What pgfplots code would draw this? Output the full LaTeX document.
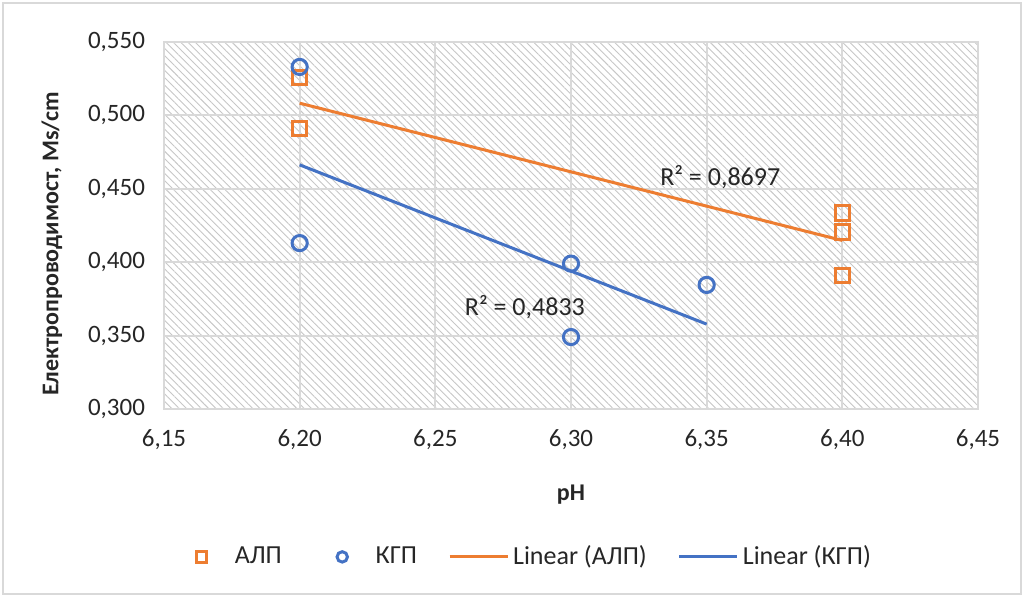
\documentclass[border=0pt]{standalone}
\usepackage{pgfplots}
\pgfplotsset{compat=1.18}
\usepackage{fontspec}
\setmainfont{Carlito}
\usetikzlibrary{patterns.meta}
\definecolor{xlorange}{HTML}{ED7D31}
\definecolor{xlblue}{HTML}{4472C4}
\definecolor{xlgrid}{HTML}{D9D9D9}
\definecolor{xltext}{HTML}{262626}
\pgfplotsset{
  markleg/.style={legend image code/.code={\draw[##1, mark size=2.6pt] plot coordinates {(14.5pt,0pt)};\path (0pt,0pt) (29pt,0pt);}},
  lineleg/.style={legend image code/.code={\draw[##1] (0pt,0pt) -- (29pt,0pt);}},
}
\begin{document}
\begin{tikzpicture}[x=1pt,y=1pt]
\path[use as bounding box] (0,0) rectangle (512,298.5);
\draw[xlgrid, line width=0.75pt] (1.5,1.5) rectangle (510.5,297);
\begin{axis}[
  at={(82pt,94pt)}, anchor=south west,
  scale only axis, width=407pt, height=183.5pt,
  xmin=6.15, xmax=6.45, ymin=0.3, ymax=0.55,
  xtick={6.15,6.20,6.25,6.30,6.35,6.40,6.45},
  ytick={0.30,0.35,0.40,0.45,0.50,0.55},
  major tick length=0pt,
  grid=major,
  major grid style={xlgrid, line width=1pt},
  axis line style={xlgrid, line width=1pt},
  axis background/.style={preaction={fill=white}, pattern={Lines[angle=-45,distance=2.6pt,line width=0.45pt]}, pattern color=black!22},
  tick label style={font=\fontsize{12.5}{14}\selectfont, text=xltext},
  /pgf/number format/assume math mode=true,
  xticklabel style={anchor=north, yshift=-7pt, /pgf/number format/.cd, fixed, fixed zerofill, precision=2, use comma},
  yticklabel style={anchor=east, xshift=-6pt, /pgf/number format/.cd, fixed, fixed zerofill, precision=3, use comma},
  xlabel={pH},
  ylabel={Електропроводимост, Ms/cm},
  x label style={at={(axis description cs:0.5,-0.232)}, anchor=center, font=\bfseries\fontsize{12}{14}\selectfont, text=xltext},
  y label style={at={(axis description cs:-0.1376,0.45)}, anchor=center, font=\bfseries\fontsize{12}{14}\selectfont, text=xltext},
  legend style={at={(0.4416,-0.403)}, anchor=center, draw=none, fill=none,
    legend columns=4, font=\fontsize{13}{15}\selectfont, text=xltext,
    /tikz/every even column/.append style={column sep=13.5pt}},
  clip=false,
]
\addplot[only marks, mark=square, mark size=3.6pt, mark options={draw=xlorange, line width=1.5pt, fill=white}, markleg]
  coordinates {(6.20,0.526) (6.20,0.491) (6.40,0.4335) (6.40,0.4206) (6.40,0.391)};
\addlegendentry{АЛП}
\addplot[only marks, mark=o, mark size=3.8pt, mark options={draw=xlblue, line width=1.5pt, fill=white}, markleg]
  coordinates {(6.20,0.533) (6.20,0.413) (6.30,0.399) (6.30,0.349) (6.35,0.3845)};
\addlegendentry{КГП}
\addplot[no marks, xlorange, line width=1.5pt, lineleg]
  coordinates {(6.20,0.5083) (6.40,0.4148)};
\addlegendentry{Linear (АЛП)}
\addplot[no marks, xlblue, line width=1.5pt, lineleg]
  coordinates {(6.20,0.4663) (6.35,0.3578)};
\addlegendentry{Linear (КГП)}
\node[font=\fontsize{13}{15}\selectfont, text=xltext] at (axis cs:6.355,0.458) {R² = 0,8697};
\node[font=\fontsize{13}{15}\selectfont, text=xltext] at (axis cs:6.283,0.3695) {R² = 0,4833};
\end{axis}
\end{tikzpicture}
\end{document}
